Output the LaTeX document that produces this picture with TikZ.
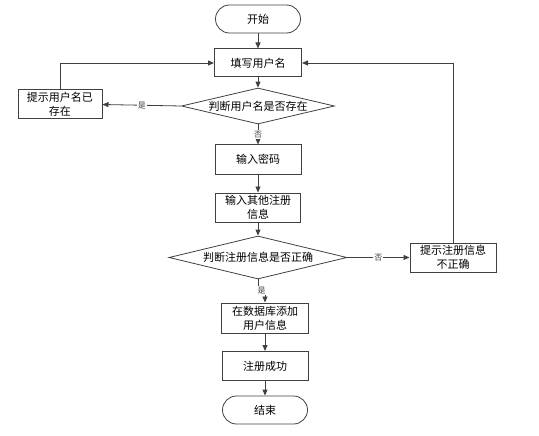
\documentclass[tikz,border=0pt]{standalone}
\usepackage{fontspec}
\setmainfont{Noto Sans CJK SC}
\definecolor{linegray}{RGB}{64,64,64}
\usetikzlibrary{positioning, arrows.meta, shapes.geometric}

\begin{document}
\begin{tikzpicture}[x=1pt, y=-1pt,
    procbox/.style={draw=linegray, line width=1pt, fill=white,
      minimum width=86pt, minimum height=29pt, inner sep=2pt,
      font=\fontsize{11}{14}\selectfont, align=center},
    termbox/.style={draw=linegray, line width=0.8pt, rounded corners=14pt,
      minimum width=85pt, minimum height=28pt,
      font=\fontsize{11}{14}\selectfont},
    decbox/.style={draw=linegray, line width=0.8pt, diamond, aspect=4,
      inner sep=0pt, font=\fontsize{11}{14}\selectfont},
    lbl/.style={fill=white, inner sep=1pt, font=\fontsize{8}{9}\selectfont},
    arrow/.style={-{Triangle[length=6pt, width=5pt]}, linegray, line width=0.8pt},
  ]
    \useasboundingbox (0,0) rectangle (539,436);
    % main flow
    \node[termbox] (start) at (258, 19) {开始};
    \node[procbox, minimum width=87pt, minimum height=28pt] (user) at (258, 63) {填写用户名};
    \node[decbox, minimum width=153pt, minimum height=36pt] (chk1) at (258, 106) {判断用户名是否存在};
    \node[procbox, minimum width=84pt] (warn1) at (60, 104.5) {提示用户名已\\存在};
    \node[procbox] (pwd) at (258, 159.5) {输入密码};
    \node[procbox, minimum width=85pt] (info) at (258, 207.5) {输入其他注册\\信息};
    \node[decbox, minimum width=178pt, minimum height=43pt] (chk2) at (258, 257.5) {判断注册信息是否正确};
    \node[procbox] (warn2) at (453, 257.5) {提示注册信息\\不正确};
    \node[procbox, minimum width=87pt, minimum height=30pt] (db) at (265, 318) {在数据库添加\\用户信息};
    \node[procbox] (ok) at (265, 366) {注册成功};
    \node[termbox] (end) at (265, 410) {结束};
    % connectors
    \draw[arrow] (start) -- (user);
    \draw[arrow] (user) -- (chk1);
    \draw[arrow] (chk1.west) -- node[lbl] {是} (warn1.east);
    \draw[arrow] (warn1.north) |- (user.west);
    \draw[arrow] (chk1.south) -- node[lbl] {否} (pwd.north);
    \draw[arrow] (pwd) -- (info);
    \draw[arrow] (info) -- (chk2.north);
    \draw[arrow] (chk2.east) -- node[lbl] {否} (warn2.west);
    \draw[arrow] (warn2.north) |- (user.east);
    \draw[arrow] (chk2.south) -- ++(0,11) -| node[lbl, pos=0.25] {是} (db.north);
    \draw[arrow] (db) -- (ok);
    \draw[arrow] (ok) -- (end);
  \end{tikzpicture}
\end{document}
